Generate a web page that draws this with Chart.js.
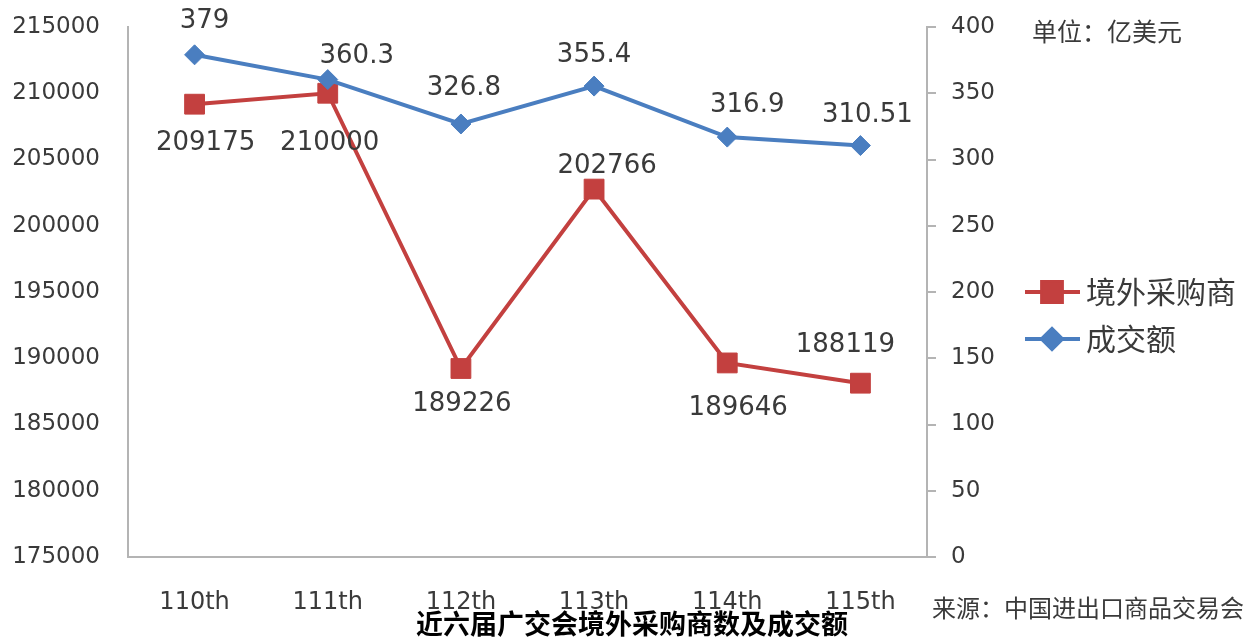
<!DOCTYPE html>
<html>
<head>
<meta charset="utf-8">
<script src="https://cdn.jsdelivr.net/npm/chart.js@4.4.1/dist/chart.umd.min.js"></script>
<style>
  html, body { margin: 0; padding: 0; background: #fff; }
  #wrap { width: 1250px; height: 639px; position: relative; }
</style>
</head>
<body>
<div id="wrap"><canvas id="fair"></canvas></div>
<script>
// ---- data ----
var sessions = ['110th', '111th', '112th', '113th', '114th', '115th'];
var buyers   = [209175, 210000, 189226, 202766, 189646, 188119];   // 境外采购商 (left axis)
var turnover = [379, 360.3, 326.8, 355.4, 316.9, 310.51];          // 成交额, 亿美元 (right axis)
var buyerLabels    = ['209175', '210000', '189226', '202766', '189646', '188119'];
var turnoverLabels = ['379', '360.3', '326.8', '355.4', '316.9', '310.51'];

// ---- look ----
var RED = '#c3403f', BLUE = '#4a7ec0', AXIS = '#b4b4b4', TXT = '#3a3a3a';
var NUM_FONT = '"DejaVu Sans", sans-serif';
var CJK_FONT = '"Noto Sans CJK SC", sans-serif';

// where each value label sits relative to its point (px)
var buyerLabelShift    = [[11, 39], [2, 50], [1, 36], [13, -23], [11, 45], [-15, -38]];
var turnoverLabelShift = [[10, -34], [29, -23], [3, -36], [0, -31], [20, -32], [7, -30]];

var valueLabels = {
  id: 'valueLabels',
  afterDatasetsDraw: function (chart) {
    var ctx = chart.ctx;
    ctx.save();
    ctx.font = '26px ' + NUM_FONT;
    ctx.fillStyle = TXT;
    ctx.textAlign = 'center';
    ctx.textBaseline = 'middle';
    chart.data.datasets.forEach(function (ds, di) {
      var meta = chart.getDatasetMeta(di);
      meta.data.forEach(function (pt, i) {
        var sh = ds.labelShift[i];
        ctx.fillText(ds.valueText[i], pt.x + sh[0], pt.y + sh[1]);
      });
    });
    ctx.restore();
  }
};

var extras = {
  id: 'extras',
  afterDraw: function (chart) {
    var ctx = chart.ctx;
    ctx.save();
    // legend
    var rows = [
      { text: '境外采购商', color: RED, style: 'rect', r: 14, y: 292 },
      { text: '成交额', color: BLUE, style: 'rectRot', r: 10, y: 339 }
    ];
    rows.forEach(function (row) {
      ctx.strokeStyle = row.color;
      ctx.lineWidth = 4;
      ctx.beginPath();
      ctx.moveTo(1025, row.y);
      ctx.lineTo(1080, row.y);
      ctx.stroke();
      ctx.fillStyle = row.color;
      Chart.helpers.drawPoint(ctx, { pointStyle: row.style, radius: row.r, borderWidth: 1 }, 1052, row.y);
      ctx.fill();
      ctx.fillStyle = TXT;
      ctx.font = '30px ' + CJK_FONT;
      ctx.textAlign = 'left';
      ctx.textBaseline = 'middle';
      ctx.fillText(row.text, 1086, row.y);
    });
    // unit, source, title
    ctx.fillStyle = TXT;
    ctx.font = '25px ' + CJK_FONT;
    ctx.textAlign = 'left';
    ctx.textBaseline = 'middle';
    ctx.fillText('单位：亿美元', 1032, 31);
    ctx.font = '24px ' + CJK_FONT;
    ctx.fillText('来源：中国进出口商品交易会', 932, 608);
    ctx.fillStyle = '#000';
    ctx.font = 'bold 27px ' + CJK_FONT;
    ctx.textAlign = 'center';
    ctx.fillText('近六届广交会境外采购商数及成交额', 632, 624);
    ctx.restore();
  }
};

var plainNumber = function (value) { return String(value); };

// fixed axis widths; drop the label padding chart.js adds above/below
var fixSide = function (w) {
  return function (scale) {
    scale.width = w;
    scale.paddingTop = 0;
    scale.paddingBottom = 0;
  };
};

new Chart(document.getElementById('fair'), {
  type: 'line',
  data: {
    labels: sessions,
    datasets: [
      {
        label: '境外采购商',
        data: buyers,
        valueText: buyerLabels,
        labelShift: buyerLabelShift,
        yAxisID: 'y',
        order: 1,
        borderColor: RED,
        backgroundColor: RED,
        borderWidth: 4,
        pointStyle: 'rect',
        pointRadius: 14,
        pointBorderWidth: 1,
        tension: 0
      },
      {
        label: '成交额',
        data: turnover,
        valueText: turnoverLabels,
        labelShift: turnoverLabelShift,
        yAxisID: 'y1',
        order: 0,
        borderColor: BLUE,
        backgroundColor: BLUE,
        borderWidth: 4,
        pointStyle: 'rectRot',
        pointRadius: 10,
        pointBorderWidth: 1,
        tension: 0
      }
    ]
  },
  options: {
    responsive: true,
    maintainAspectRatio: false,
    animation: false,
    devicePixelRatio: 1,
    layout: { padding: { top: 27, left: 0, right: 0, bottom: 0 } },
    plugins: {
      legend: { display: false },
      tooltip: { enabled: false }
    },
    scales: {
      x: {
        offset: true,
        grid: { display: false, drawTicks: false },
        border: { display: true, color: AXIS, width: 2 },
        ticks: { color: TXT, font: { family: NUM_FONT, size: 24 }, padding: 31, maxRotation: 0 },
        afterFit: function (scale) { scale.height = 82; }
      },
      y: {
        position: 'left',
        min: 175000,
        max: 215000,
        grid: { display: false, drawTicks: false },
        border: { display: true, color: AXIS, width: 2 },
        ticks: { stepSize: 5000, color: TXT, font: { family: NUM_FONT, size: 23 }, padding: 28, callback: plainNumber },
        afterFit: fixSide(128)
      },
      y1: {
        position: 'right',
        min: 0,
        max: 400,
        grid: { display: true, drawOnChartArea: false, drawTicks: true, tickLength: 9, color: AXIS, lineWidth: 2 },
        border: { display: true, color: AXIS, width: 2 },
        ticks: { stepSize: 50, color: TXT, font: { family: NUM_FONT, size: 23 }, padding: 15, callback: plainNumber },
        afterFit: fixSide(323)
      }
    }
  },
  plugins: [valueLabels, extras]
});
</script>
</body>
</html>
